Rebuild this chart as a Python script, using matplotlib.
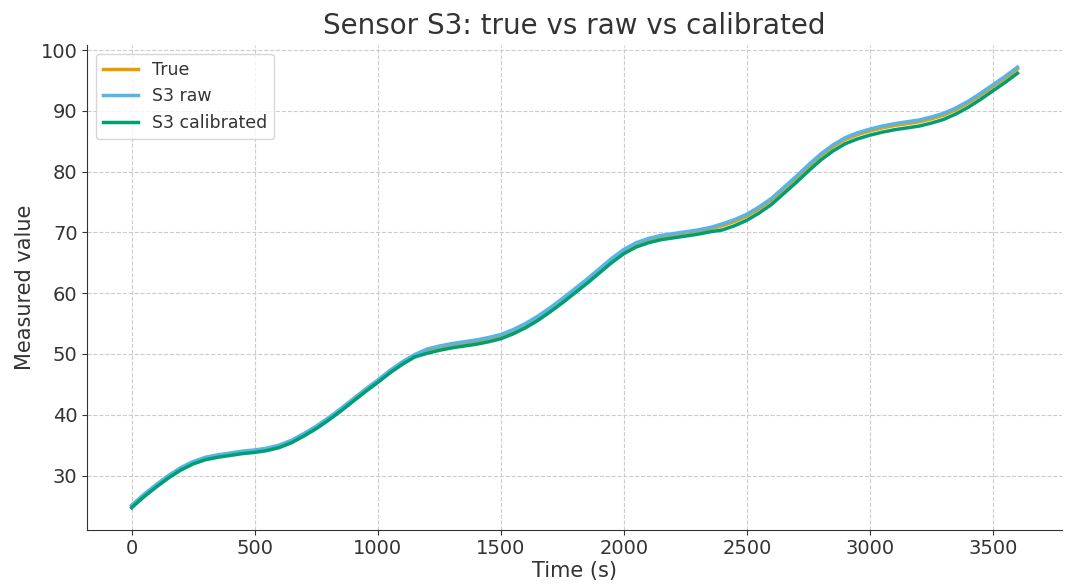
import numpy as np
import matplotlib.pyplot as plt

# values, every 50 s
time_s = np.arange(0, 3650, 50)

true_vals = [25.0, 26.8, 28.4, 29.9, 31.2, 32.2, 32.9, 33.3, 33.6, 33.9,
             34.1, 34.4, 34.9, 35.7, 36.8, 38.0, 39.4, 40.9, 42.5, 44.1,
             45.6, 47.2, 48.6, 49.8, 50.6, 51.1, 51.5, 51.8, 52.1, 52.5,
             53.0, 53.8, 54.8, 56.0, 57.4, 58.9, 60.5, 62.1, 63.8, 65.5,
             67.0, 68.1, 68.8, 69.3, 69.6, 69.9, 70.2, 70.6, 71.1, 71.8,
             72.7, 73.9, 75.3, 77.1, 78.9, 80.8, 82.6, 84.1, 85.3, 86.1,
             86.7, 87.2, 87.6, 87.9, 88.2, 88.7, 89.3, 90.2, 91.3, 92.6,
             94.0, 95.4, 96.9]

s3_raw = [25.1, 26.9, 28.5, 30.0, 31.3, 32.3, 33.0, 33.4, 33.7, 34.0,
          34.2, 34.5, 35.0, 35.8, 36.9, 38.1, 39.5, 41.0, 42.6, 44.2,
          45.7, 47.3, 48.7, 49.9, 50.8, 51.3, 51.7, 52.0, 52.3, 52.7,
          53.2, 54.0, 55.0, 56.2, 57.6, 59.1, 60.7, 62.3, 64.0, 65.7,
          67.2, 68.3, 69.0, 69.5, 69.8, 70.1, 70.4, 70.8, 71.4, 72.1,
          73.0, 74.2, 75.6, 77.4, 79.2, 81.1, 82.9, 84.4, 85.6, 86.4,
          87.0, 87.5, 87.9, 88.2, 88.5, 89.0, 89.6, 90.5, 91.6, 92.9,
          94.3, 95.7, 97.2]

s3_cal = [24.7, 26.5, 28.1, 29.6, 30.9, 31.9, 32.6, 33.0, 33.3, 33.6,
          33.8, 34.1, 34.6, 35.4, 36.5, 37.7, 39.1, 40.6, 42.2, 43.8,
          45.3, 46.9, 48.3, 49.5, 50.1, 50.6, 51.0, 51.3, 51.6, 52.0,
          52.5, 53.3, 54.3, 55.5, 56.9, 58.4, 60.0, 61.6, 63.3, 65.0,
          66.5, 67.6, 68.3, 68.8, 69.1, 69.4, 69.7, 70.1, 70.4, 71.1,
          72.0, 73.2, 74.6, 76.4, 78.2, 80.1, 81.9, 83.4, 84.6, 85.4,
          86.0, 86.5, 86.9, 87.2, 87.5, 88.0, 88.6, 89.5, 90.6, 91.9,
          93.3, 94.7, 96.2]

plt.rcParams['font.family'] = 'DejaVu Sans'
txt = '#333333'

fig = plt.figure(figsize=(10.65, 5.86), dpi=100)
ax = fig.add_axes([0.082, 0.096, 0.915, 0.827])

ax.plot(time_s, true_vals, color='#E69F00', lw=2.5, label='True')
ax.plot(time_s, s3_raw, color='#56B4E9', lw=2.5, label='S3 raw')
ax.plot(time_s, s3_cal, color='#009E73', lw=2.5, label='S3 calibrated')

ax.set_title('Sensor S3: true vs raw vs calibrated', fontsize=20, color=txt, pad=8)
ax.set_xlabel('Time (s)', fontsize=15, color=txt, labelpad=2)
ax.set_ylabel('Measured value', fontsize=15, color=txt)
ax.tick_params(labelsize=14, colors=txt)

ax.grid(True, linestyle='--', color='#cccccc', linewidth=0.8)
ax.spines['top'].set_visible(False)
ax.spines['right'].set_visible(False)
ax.spines['left'].set_color(txt)
ax.spines['bottom'].set_color(txt)

leg = ax.legend(loc='upper left', fontsize=12.5, frameon=True)
for t in leg.get_texts():
    t.set_color(txt)

fig.savefig('out.png', dpi=100)
